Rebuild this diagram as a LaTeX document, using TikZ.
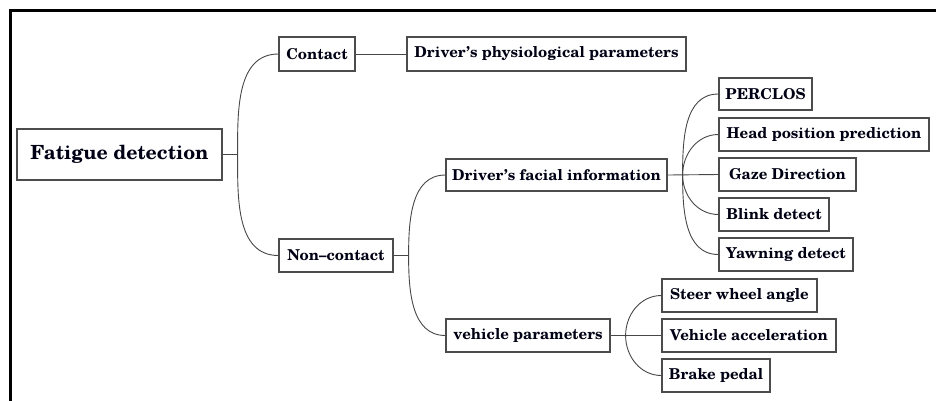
\documentclass[tikz,border=0pt]{standalone}
\usepackage{fontspec}
\setmainfont{TeX Gyre Schola}
\newcommand{\apos}{\char"0027\relax}
\begin{document}
\begin{tikzpicture}[x=1pt,y=-1pt,
  box/.style={draw=black!70, line width=1.2pt, fill=white, inner sep=0pt,
    font=\fontsize{15}{17}\selectfont\bfseries, text=black!92!blue},
  bigbox/.style={box, font=\fontsize{19.5}{22}\selectfont\bfseries},
  link/.style={draw=black!72, line width=0.9pt},
  branch/.style={link, out=90, in=180},
  branchdown/.style={link, out=-90, in=180},
]
\useasboundingbox (0,0) rectangle (936,400);

% frame
\draw[line width=3pt] (936,10) -- (10,10) -- (10,402);

% root
\node[bigbox, minimum width=205pt, minimum height=51pt] (fat) at (119.5,154.5) {Fatigue detection};

% first level
\node[box, minimum width=76pt, minimum height=34pt] (contact) at (317,54) {Contact};
\node[box, minimum width=114pt, minimum height=33pt] (noncontact) at (336,255.5) {Non--contact};

% second level
\node[box, minimum width=279pt, minimum height=34pt] (phys) at (546.5,54) {Driver\apos s physiological parameters};
\node[box, minimum width=221pt, minimum height=32pt] (facial) at (556.5,175) {Driver\apos s facial information};
\node[box, minimum width=164pt, minimum height=33pt] (vehicle) at (528,335.5) {vehicle parameters};

% facial cues
\node[box, minimum width=93pt, minimum height=32pt] (perclos) at (765.5,94) {PERCLOS};
\node[box, minimum width=210pt, minimum height=33pt] (head) at (824,134.5) {Head position prediction};
\node[box, minimum width=137pt, minimum height=33pt] (gaze) at (787.5,174.5) {Gaze Direction};
\node[box, minimum width=110pt, minimum height=33pt] (blink) at (774,214.5) {Blink detect};
\node[box, minimum width=134pt, minimum height=33pt] (yawn) at (786,254.5) {Yawning detect};

% vehicle signals
\node[box, minimum width=155pt, minimum height=33pt] (steer) at (739.5,295.5) {Steer wheel angle};
\node[box, minimum width=174pt, minimum height=33pt] (vacc) at (749,335.5) {Vehicle acceleration};
\node[box, minimum width=108pt, minimum height=33pt] (brake) at (716,375.5) {Brake pedal};

% branching points
\coordinate (j0) at ([xshift=15pt]fat.east);
\coordinate (j1) at ([xshift=15pt]noncontact.east);
\coordinate (j2) at ([xshift=15pt]facial.east);
\coordinate (j3) at ([xshift=15pt]vehicle.east);

% connectors
\draw[link] (fat.east) -- (j0);
\draw (j0) edge[branch] (contact.west) edge[branchdown] (noncontact.west);
\draw[link] (contact.east) -- (phys.west);

\draw[link] (noncontact.east) -- (j1);
\draw (j1) edge[branch] (facial.west) edge[branchdown] (vehicle.west);

\draw[link] (facial.east) -- (gaze.west);
\draw (j2) edge[branch] (perclos.west) edge[branch] (head.west)
           edge[branchdown] (blink.west) edge[branchdown] (yawn.west);

\draw[link] (vehicle.east) -- (vacc.west);
\draw (j3) edge[branch] (steer.west) edge[branchdown] (brake.west);
\end{tikzpicture}
\end{document}
